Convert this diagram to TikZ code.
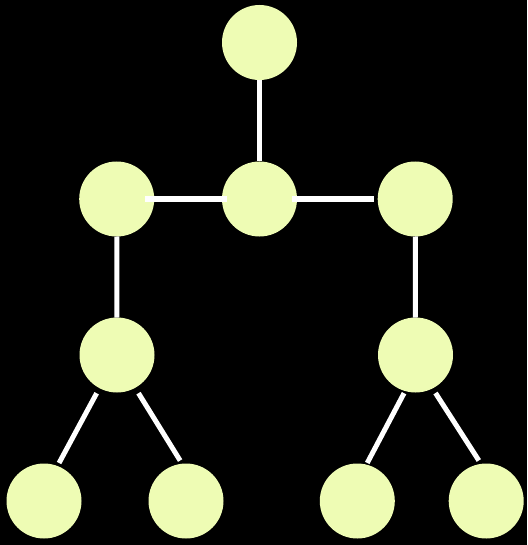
\documentclass[tikz,border=0pt]{standalone}
\definecolor{nodefill}{HTML}{EEFCB4}
\begin{document}
\begin{tikzpicture}[x=1pt,y=-1pt,
  vtx/.style={circle,fill=nodefill,minimum size=75pt,inner sep=0pt,outer sep=0pt},
  edge/.style={draw=white,line width=5pt,line cap=butt}]
\fill[black] (0,0) rectangle (527,545);
\useasboundingbox (0,0) rectangle (527,545);
\node[vtx] (t)  at (259.5,42.5) {};
\node[vtx] (ml) at (116.7,199) {};
\node[vtx] (mm) at (259.5,199) {};
\node[vtx] (mr) at (415.2,199) {};
\node[vtx] (l3) at (117,355) {};
\node[vtx] (r3) at (415.5,355) {};
\node[vtx] (b1) at (44,501) {};
\node[vtx] (b2) at (186,501) {};
\node[vtx] (b3) at (357.3,501) {};
\node[vtx] (b4) at (486.2,501) {};
\draw[edge] (t) -- (mm);
\draw[edge,shorten <=-9pt,shorten >=-5pt] (ml.east) -- (mm.west);
\draw[edge,shorten <=-5pt,shorten >=3.7pt] (mm.east) -- (mr.west);
\draw[edge] (ml) -- (l3);
\draw[edge] (mr) -- (r3);
\draw[edge,shorten <=5.8pt,shorten >=3.4pt] (l3.-118) -- (b1.69.5);
\draw[edge,shorten <=6.3pt,shorten >=3.7pt] (l3.-61) -- (b2.96);
\draw[edge,shorten <=2.4pt,shorten >=1.9pt] (r3.-106) -- (b3.76);
\draw[edge,shorten <=5.5pt,shorten >=4pt] (r3.-63) -- (b4.98.6);
\end{tikzpicture}
\end{document}
